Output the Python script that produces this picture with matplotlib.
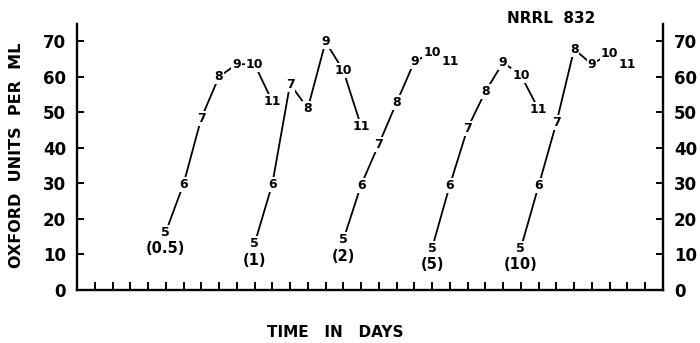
import numpy as np
import matplotlib
matplotlib.use("Agg")
import matplotlib.pyplot as plt

plt.rcParams['font.family'] = ['DejaVu Sans']

days = [5, 6, 7, 8, 9, 10, 11]
offsets = [0, 5, 10, 15, 20]  # each curve shifted 5 days along the axis
inoculum = ['(0.5)', '(1)', '(2)', '(5)', '(10)']
units = [
    [16.3, 29.8, 48.3, 60.0, 63.5, 63.5, 53.0],
    [13.0, 29.8, 57.9, 51.1, 69.8, 61.7, 46.1],
    [14.1, 29.5, 41.0, 52.7, 64.2, 66.8, 64.2],
    [11.8, 29.5, 45.5, 55.8, 64.0, 60.4, 50.8],
    [11.8, 29.3, 47.0, 67.7, 63.5, 66.5, 63.3],
]
yticks = [0, 10, 20, 30, 40, 50, 60, 70]
xticks = list(range(1, 33))


def main():
    fig = plt.figure(figsize=(7, 3.43), dpi=100)
    ax = fig.add_axes([0.110, 0.1545, 0.837, 0.7755])

    for off, lab, vals in zip(offsets, inoculum, units):
        x = np.array(days) + off
        ax.plot(x, vals, color='black', lw=1.3, zorder=1)
        for d, xx, yy in zip(days, x, vals):
            ax.text(xx, yy, str(d), ha='center', va='center', fontsize=9,
                    fontweight='bold', zorder=3,
                    bbox=dict(facecolor='white', edgecolor='none', pad=0.7))
        ax.annotate(lab, (x[0], vals[0]), xytext=(0, -12), textcoords='offset points',
                    ha='center', va='center', fontsize=10.5, fontweight='bold')

    ax.set_xlim(0, 33)
    ax.set_ylim(0, 74.8)
    ax.set_xticks(xticks)
    ax.set_xticklabels([])
    ax.set_yticks(yticks)
    ax.set_yticklabels([str(v) for v in yticks], fontsize=12, fontweight='bold')
    ax.tick_params(axis='x', direction='in', length=6, width=1.4, top=False)
    ax.tick_params(axis='y', direction='in', length=5, width=1.4, pad=8,
                   left=True, right=True, labelleft=True, labelright=True)
    ax.spines['top'].set_visible(False)
    for s in ['left', 'right', 'bottom']:
        ax.spines[s].set_linewidth(1.7)

    fig.text(0.024, 0.548, 'OXFORD  UNITS  PER  ML', rotation=90, ha='center', va='center',
             fontsize=11.5, fontweight='bold')
    fig.text(0.479, 0.03, 'TIME   IN   DAYS', ha='center', va='center',
             fontsize=11, fontweight='bold')
    fig.text(0.787, 0.945, 'NRRL  832', ha='center', va='center',
             fontsize=11, fontweight='bold')

    fig.savefig('out.png', dpi=100)


main()
